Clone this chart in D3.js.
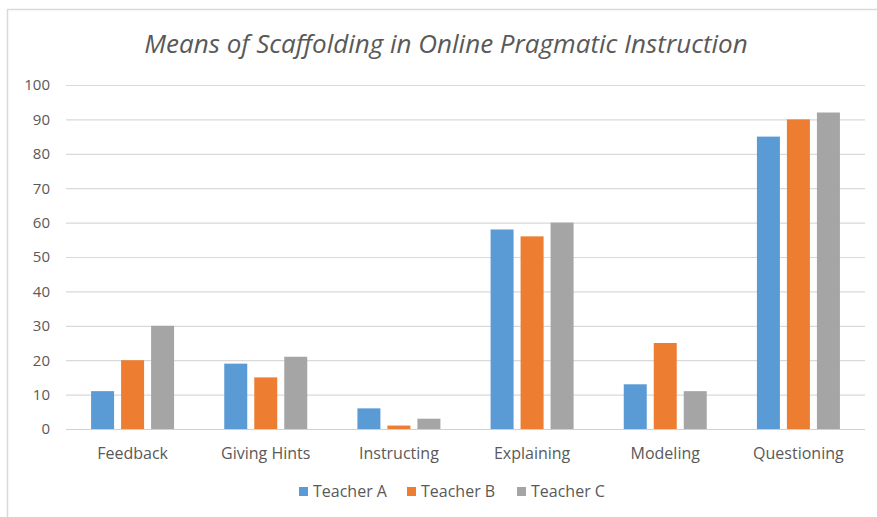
<!DOCTYPE html>
<html>
<head>
<meta charset="utf-8">
<script src="https://cdn.jsdelivr.net/npm/d3@7"></script>
<style>
  body { margin: 0; background: #fff; }
  svg { display: block; font-family: "Open Sans", "Noto Sans", sans-serif; }
</style>
</head>
<body>
<svg id="chart" width="877" height="517"></svg>
<script>
// chart data
const categories = ["Feedback", "Giving Hints", "Instructing", "Explaining", "Modeling", "Questioning"];
const seriesNames = ["Teacher A", "Teacher B", "Teacher C"];
const teacherA = [11, 19, 6, 58, 13, 85];
const teacherB = [20, 15, 1, 56, 25, 90];
const teacherC = [30, 21, 3, 60, 11, 92];
const yTicks = [0, 10, 20, 30, 40, 50, 60, 70, 80, 90, 100];
const colors = ["#5b9bd5", "#ed7d31", "#a5a5a5"];

const series = [teacherA, teacherB, teacherC];

const svg = d3.select("#chart");

// outer chart border (only top/left visible in the picture)
svg.append("rect")
    .attr("x", 7.5).attr("y", 9.5)
    .attr("width", 900).attr("height", 600)
    .attr("fill", "none")
    .attr("stroke", "#d9d9d9")
    .attr("stroke-width", 1.5);

const plotLeft = 66, plotRight = 865, plotTop = 85, plotBottom = 429;

const x = d3.scaleBand().domain(categories).range([plotLeft, plotRight]);
const y = d3.scaleLinear().domain([0, 100]).range([plotBottom, plotTop]);

// gridlines
svg.append("g")
    .selectAll("line")
    .data(yTicks)
    .enter()
    .append("line")
    .attr("x1", plotLeft)
    .attr("x2", plotRight)
    .attr("y1", d => y(d) + 0.5)
    .attr("y2", d => y(d) + 0.5)
    .attr("stroke", d => d === 0 ? "#d0d0d0" : "#d9d9d9")
    .attr("stroke-width", 1.2);

// y tick labels
svg.append("g")
    .selectAll("text")
    .data(yTicks)
    .enter()
    .append("text")
    .attr("x", 50)
    .attr("y", d => y(d))
    .attr("dy", "0.36em")
    .attr("text-anchor", "end")
    .attr("fill", "#595959")
    .attr("font-size", 15)
    .text(d => d);

// bars
const barW = 23, barGap = 7;
const groupW = barW * 3 + barGap * 2;
const bars = svg.append("g");
series.forEach((vals, si) => {
  bars.selectAll(null)
      .data(vals)
      .enter()
      .append("rect")
      .attr("x", (d, i) => x(categories[i]) + x.bandwidth() / 2 - groupW / 2 + si * (barW + barGap))
      .attr("y", d => y(d))
      .attr("width", barW)
      .attr("height", d => plotBottom - y(d))
      .attr("fill", colors[si]);
});

// category labels
svg.append("g")
    .selectAll("text")
    .data(categories)
    .enter()
    .append("text")
    .attr("x", d => x(d) + x.bandwidth() / 2)
    .attr("y", 459)
    .attr("text-anchor", "middle")
    .attr("fill", "#595959")
    .attr("font-size", 16)
    .text(d => d);

// title
svg.append("text")
    .attr("x", 446)
    .attr("y", 53)
    .attr("text-anchor", "middle")
    .attr("font-style", "italic")
    .attr("font-size", 26)
    .attr("fill", "#595959")
    .text("Means of Scaffolding in Online Pragmatic Instruction");

// legend
const legendX = [299, 407, 517];
const legend = svg.append("g");
seriesNames.forEach((name, i) => {
  legend.append("rect")
      .attr("x", legendX[i])
      .attr("y", 487)
      .attr("width", 9)
      .attr("height", 9)
      .attr("fill", colors[i]);
  legend.append("text")
      .attr("x", legendX[i] + 14)
      .attr("y", 497)
      .attr("fill", "#595959")
      .attr("font-size", 16)
      .text(name);
});
</script>
</body>
</html>
